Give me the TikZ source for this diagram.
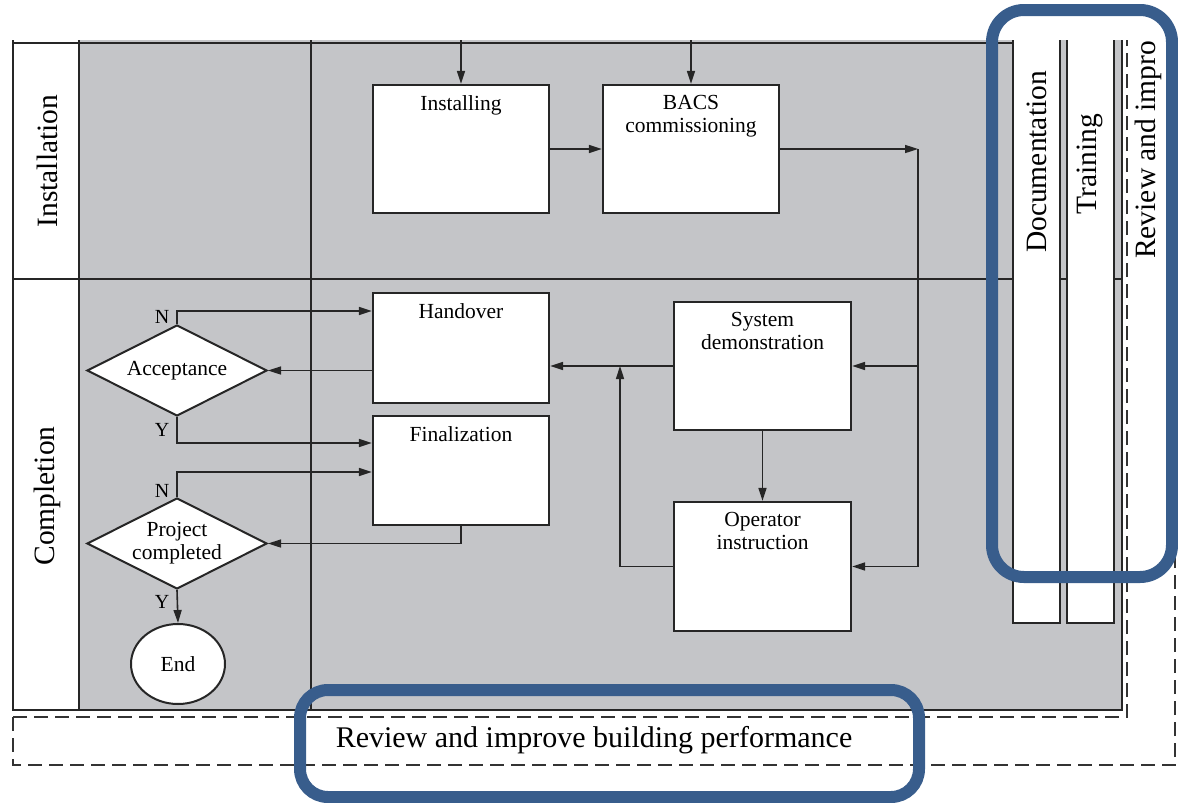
\documentclass[tikz,border=0pt]{standalone}
\usepackage{fontspec}
\setmainfont{Liberation Serif}
\usetikzlibrary{arrows.meta,shapes.geometric,calc}
\definecolor{lanegrey}{RGB}{196,197,200}
\definecolor{hlblue}{RGB}{56,93,140}
\begin{document}
\begin{tikzpicture}[x=1pt,y=-1pt,
  frame/.style={line width=2pt, draw=black!85},
  procbox/.style={draw=black!85, line width=2.2pt, fill=white, inner sep=0pt, minimum width=176pt},
  boxtext/.style={anchor=north, inner sep=0pt, align=center, font=\fontsize{21.5}{23}\selectfont},
  decision/.style={diamond, draw=black!85, line width=2pt, fill=white, inner sep=0pt, minimum width=180pt, minimum height=91pt},
  terminal/.style={ellipse, draw=black!85, line width=2pt, fill=white, inner sep=0pt, minimum width=94pt, minimum height=80pt},
  flow/.style={line width=1.6pt, draw=black!85, -{Triangle[length=13pt,width=8pt]}},
  plain/.style={line width=1.6pt, draw=black!85},
  lanelabel/.style={rotate=90, font=\fontsize{29.5}{30}\selectfont, inner sep=0pt},
  yn/.style={font=\fontsize{20}{22}\selectfont, inner sep=0pt},
  dashline/.style={line width=1.8pt, draw=black!80, dash pattern=on 14pt off 7pt},
  highlight/.style={draw=hlblue, line width=12pt, rounded corners=32pt}
]
\useasboundingbox (0,0) rectangle (1178,803);

% lanes
\fill[lanegrey] (79,40) rectangle (1122,710);
\fill[white] (13,40) rectangle (79,710);
\draw[frame] (13,40) -- (13,710) -- (1122,710) -- (1122,40);
\draw[frame] (79,40) -- (79,710);
\draw[frame] (311,40) -- (311,710);
\draw[frame] (13,43) -- (1013,43);
\draw[frame] (13,279) -- (1122,279);

% side columns
\fill[white] (1013,40) rectangle (1060,623);
\draw[frame] (1013,40) -- (1013,623) -- (1060,623) -- (1060,40);
\fill[white] (1067,40) rectangle (1114,623);
\draw[frame] (1067,40) -- (1067,623) -- (1114,623) -- (1114,40);

% dashed frames
\draw[dashline] (13,717) -- (1127,717) -- (1127,40);
\draw[dashline] (13,717) -- (13,765) -- (1175,765) -- (1175,40);

% labels
\node[lanelabel] (linst) at (47,161) {Installation};
\node[lanelabel] (lcomp) at (47,496) {Completion};
\node[lanelabel] (ldoc) at (1037,162) {Documentation};
\node[lanelabel] (ltrain) at (1090,164) {Training};
\node[lanelabel, anchor=west] (lrev) at (1148,259) {Review and impro};
\node[font=\fontsize{30}{31}\selectfont, inner sep=0pt] (lbottom) at (594,740) {Review and improve building performance};

% process boxes
\node[procbox, minimum height=128pt] (inst) at (461,149) {};
\node[procbox, minimum height=128pt] (bacs) at (691,149) {};
\node[procbox, minimum height=110pt] (hand) at (461,348) {};
\node[procbox, minimum height=109pt] (fin) at (461,470.5) {};
\node[procbox, minimum width=177pt, minimum height=128pt] (sysd) at (762.5,366) {};
\node[procbox, minimum width=177pt, minimum height=129pt] (oper) at (762.5,566.5) {};

\node[boxtext] (tinst) at ($(inst.north)+(0,11)$) {Installing};
\node[boxtext] (tbacs) at ($(bacs.north)+(0,11)$) {BACS\\commissioning};
\node[boxtext] (thand) at ($(hand.north)+(0,11)$) {Handover};
\node[boxtext] (tfin) at ($(fin.north)+(0,11)$) {Finalization};
\node[boxtext] (tsysd) at ($(sysd.north)+(0,11)$) {System\\demonstration};
\node[boxtext] (toper) at ($(oper.north)+(0,11)$) {Operator\\instruction};

% decisions
\node[decision] (acc) at (177,370.5) {};
\node[boxtext, anchor=center] (tacc) at (acc.center) {Acceptance};
\node[decision] (pc) at (177,543.5) {};
\node[boxtext, anchor=center] (tpc) at (pc.center) {Project\\completed};
\node[terminal] (endn) at (178,664) {};
\node[boxtext, anchor=center] (tend) at (endn.center) {End};

% connector points
\coordinate (topA) at (461,40);
\coordinate (topB) at (691,40);
\coordinate (jA) at (918,149);
\coordinate (jB) at (918,366);
\coordinate (jC) at (918,566.5);
\coordinate (jD) at (620,366);

% connectors
\draw[flow] (topA) -- (inst.north);
\draw[flow] (topB) -- (bacs.north);
\draw[flow] (inst.east) -- (bacs.west);
\draw[flow] (bacs.east) -- (jA);
\draw[plain] (jA) -- (jC);
\draw[flow] (jB) -- (sysd.east);
\draw[flow] (jC) -- (oper.east);
\draw[flow] (sysd.west) -- (sysd.west -| hand.east);
\draw[flow] (oper.west) -| (jD);
\draw[flow] (sysd.south) -- (oper.north);
\draw[flow] (hand.west |- acc.east) -- (acc.east);
\draw[flow] (acc.north) |- ([yshift=37pt]hand.west);
\draw[flow] (acc.south) |- ([yshift=27.5pt]fin.west);
\draw[flow] (pc.north) |- ([yshift=-1.5pt]fin.west);
\draw[flow] (fin.south) |- (pc.east);
\draw[flow] (pc.south) -- (endn.north);

% Y / N labels
\node[yn] (n1) at (162,317) {N};
\node[yn] (y1) at (162,430) {Y};
\node[yn] (n2) at (162,491) {N};
\node[yn] (y2) at (162,602) {Y};

% highlights
\draw[highlight] (992,10) rectangle (1172,577);
\draw[highlight, rounded corners=28pt] (300,690) rectangle (919,797);
\end{tikzpicture}
\end{document}
